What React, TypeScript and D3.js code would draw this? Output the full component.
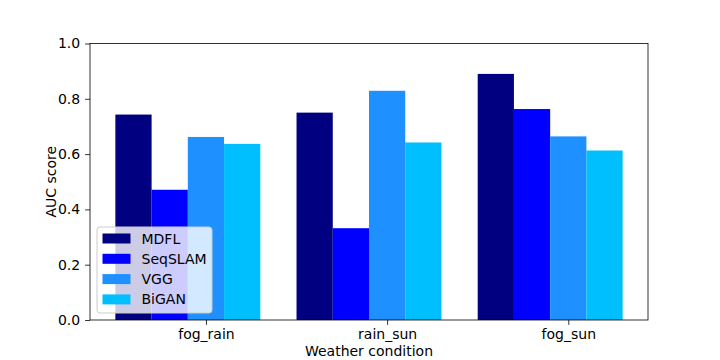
import { useEffect, useRef } from "react";
import * as d3 from "d3";

const categories = ["fog_rain", "rain_sun", "fog_sun"];
const seriesNames = ["MDFL", "SeqSLAM", "VGG", "BiGAN"];
const seriesColors = ["#000080", "#0000ff", "#1e90ff", "#00bfff"];
const mdfl = [0.743, 0.75, 0.89];
const seqslam = [0.471, 0.332, 0.763];
const vgg = [0.662, 0.829, 0.664];
const bigan = [0.637, 0.642, 0.613];
const yTicks = [0, 0.2, 0.4, 0.6, 0.8, 1.0];

const App = () => {
  const svgRef = useRef<SVGSVGElement>(null);
  const width = 720;
  const height = 360;
  const margin = { top: 43.5, right: 72, bottom: 40, left: 90 };
  const font = "DejaVu Sans, sans-serif";

  useEffect(() => {
    const svg = d3.select(svgRef.current);
    svg.selectAll("*").remove();

    const series = [mdfl, seqslam, vgg, bigan];
    const barW = 0.2;

    const x = d3
      .scaleLinear()
      .domain([-0.24, 2.84])
      .range([margin.left, width - margin.right]);
    const y = d3
      .scaleLinear()
      .domain([0, 1])
      .range([height - margin.bottom, margin.top]);

    // bars, one group per series
    series.forEach((vals, j) => {
      svg
        .append("g")
        .selectAll("rect")
        .data(vals)
        .enter()
        .append("rect")
        .attr("x", (d, i) => x(i + j * barW - barW / 2))
        .attr("width", x(barW) - x(0))
        .attr("y", (d) => y(d))
        .attr("height", (d) => y(0) - y(d))
        .attr("fill", seriesColors[j]);
    });

    // frame
    svg
      .append("rect")
      .attr("x", margin.left)
      .attr("y", margin.top)
      .attr("width", width - margin.left - margin.right)
      .attr("height", height - margin.top - margin.bottom)
      .attr("fill", "none")
      .attr("stroke", "#000")
      .attr("stroke-width", 0.8);

    // y axis
    const yAxis = svg
      .append("g")
      .attr("transform", `translate(${margin.left},0)`)
      .call(
        d3
          .axisLeft(y)
          .tickValues(yTicks)
          .tickFormat(d3.format(".1f"))
          .tickSize(4.9)
          .tickPadding(4.9)
      );
    yAxis.select(".domain").remove();
    yAxis.selectAll("line").attr("stroke-width", 0.8);
    yAxis
      .selectAll("text")
      .attr("font-family", font)
      .attr("font-size", "14px")
      .attr("fill", "#000");

    // x axis
    const xAxis = svg
      .append("g")
      .attr("transform", `translate(0,${height - margin.bottom})`)
      .call(
        d3
          .axisBottom(x)
          .tickValues(categories.map((c, i) => i + 2 * barW))
          .tickFormat((d, i) => categories[i])
          .tickSize(4.9)
          .tickPadding(4)
      );
    xAxis.select(".domain").remove();
    xAxis.selectAll("line").attr("stroke-width", 0.8);
    xAxis
      .selectAll("text")
      .attr("font-family", font)
      .attr("font-size", "14px")
      .attr("fill", "#000");

    // axis labels
    svg
      .append("text")
      .attr("x", (margin.left + width - margin.right) / 2)
      .attr("y", 356)
      .attr("text-anchor", "middle")
      .attr("font-family", font)
      .attr("font-size", "14px")
      .text("Weather condition");

    svg
      .append("text")
      .attr("transform", `translate(${56},${(margin.top + height - margin.bottom) / 2}) rotate(-90)`)
      .attr("text-anchor", "middle")
      .attr("font-family", font)
      .attr("font-size", "14px")
      .text("AUC score");

    // legend
    const lg = svg.append("g").attr("transform", "translate(97,227)");
    lg.append("rect")
      .attr("width", 115)
      .attr("height", 86)
      .attr("rx", 3)
      .attr("fill", "#fff")
      .attr("fill-opacity", 0.8)
      .attr("stroke", "#ccc")
      .attr("stroke-width", 1);
    seriesNames.forEach((name, j) => {
      const cy = 11.5 + j * 20.3;
      lg.append("rect")
        .attr("x", 5.5)
        .attr("y", cy - 5)
        .attr("width", 28)
        .attr("height", 10)
        .attr("fill", seriesColors[j]);
      lg.append("text")
        .attr("x", 44.5)
        .attr("y", cy)
        .attr("dy", "0.36em")
        .attr("font-family", font)
        .attr("font-size", "14px")
        .text(name);
    });
  }, []);

  return (
    <svg
      ref={svgRef}
      width={width}
      height={height}
      style={{ position: "absolute", left: 0, top: 0, background: "#fff" }}
    />
  );
};

export default App;
